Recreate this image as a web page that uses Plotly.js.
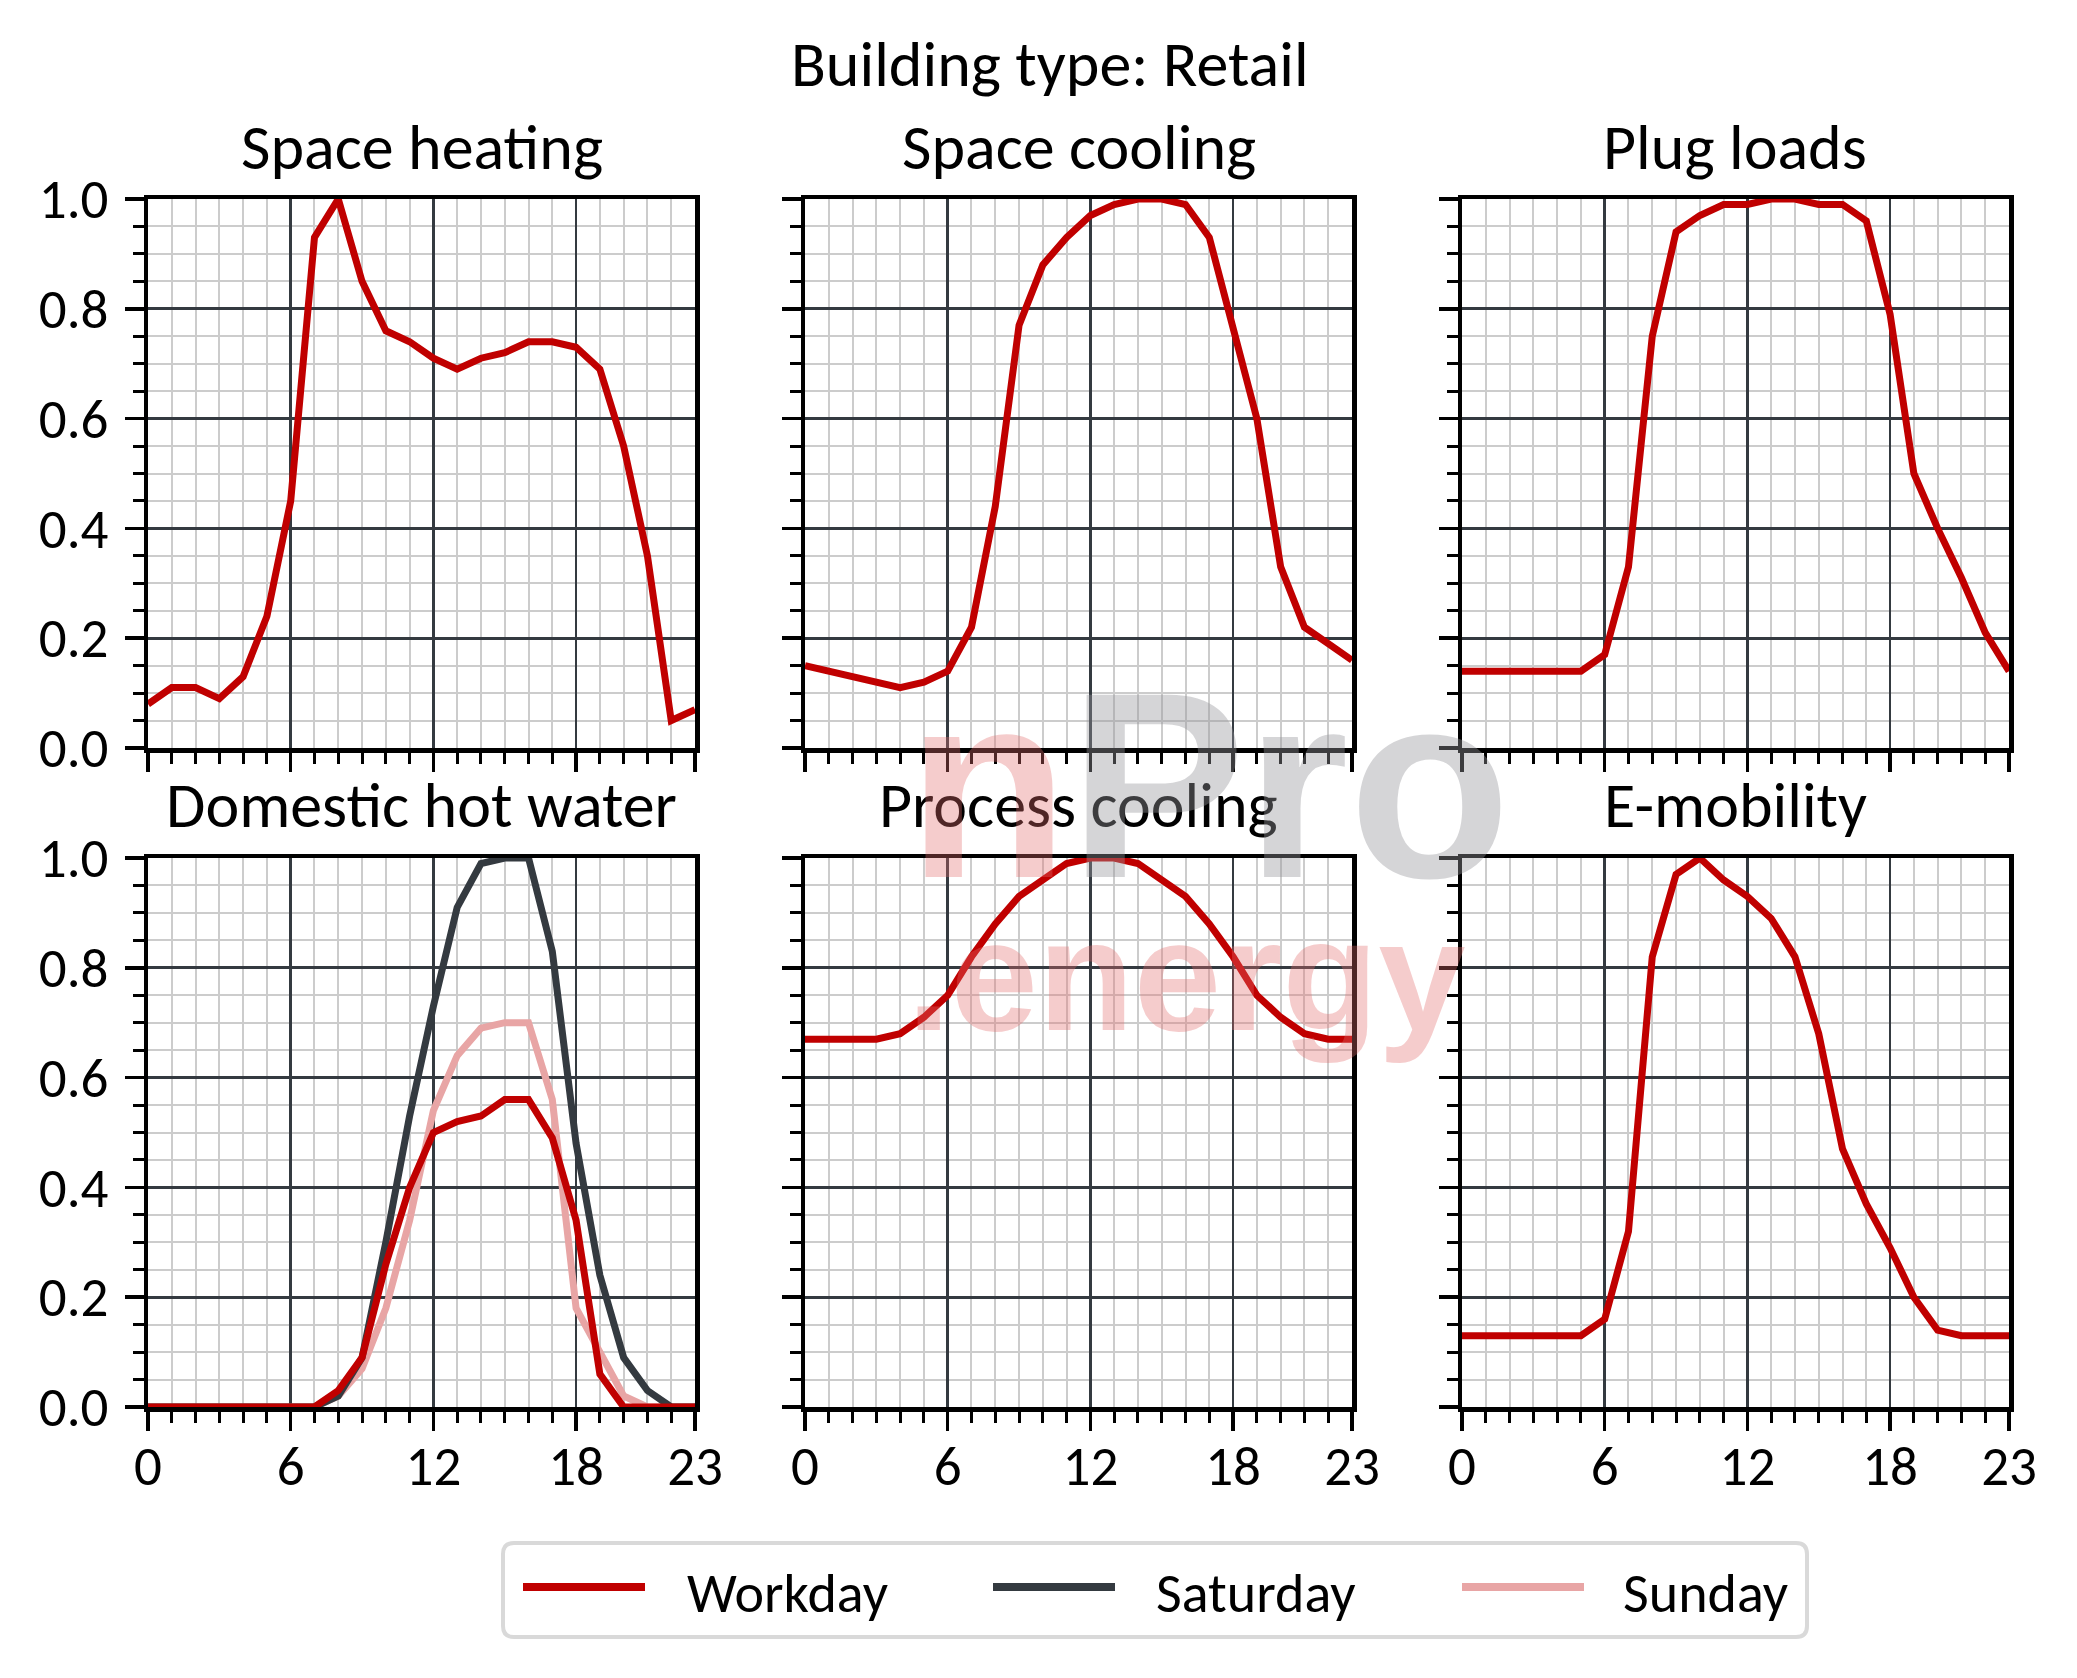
<!DOCTYPE html>
<html><head><meta charset="utf-8">
<script src="https://cdn.plot.ly/plotly-3.0.1.min.js"></script>
<style>html,body{margin:0;padding:0;background:#fff}</style>
</head><body>
<div id="chart" style="width:2077px;height:1678px"></div>
<script>
// ---------- DATA ----------
const hours = [0,1,2,3,4,5,6,7,8,9,10,11,12,13,14,15,16,17,18,19,20,21,22,23];
const xTickVals = [0,6,12,18,23];
const xTickText = ['0','6','12','18','23'];
const yTickVals = [0,0.2,0.4,0.6,0.8,1.0];
const yTickText = ['0.0','0.2','0.4','0.6','0.8','1.0'];
const panelTitles = ['Space heating','Space cooling','Plug loads','Domestic hot water','Process cooling','E-mobility'];
const mainTitle = 'Building type: Retail';
const seriesNames = ['Workday','Saturday','Sunday'];

const spaceHeatingWorkday = [0.08,0.11,0.11,0.09,0.13,0.24,0.45,0.93,1.00,0.85,0.76,0.74,0.71,0.69,0.71,0.72,0.74,0.74,0.73,0.69,0.55,0.35,0.05,0.07];
const spaceCoolingWorkday = [0.15,0.14,0.13,0.12,0.11,0.12,0.14,0.22,0.44,0.77,0.88,0.93,0.97,0.99,1.00,1.00,0.99,0.93,0.76,0.60,0.33,0.22,0.19,0.16];
const plugLoadsWorkday = [0.14,0.14,0.14,0.14,0.14,0.14,0.17,0.33,0.75,0.94,0.97,0.99,0.99,1.00,1.00,0.99,0.99,0.96,0.79,0.50,0.40,0.31,0.21,0.14];
const dhwWorkday = [0,0,0,0,0,0,0,0,0.03,0.09,0.26,0.40,0.50,0.52,0.53,0.56,0.56,0.49,0.34,0.06,0,0,0,0];
const dhwSaturday = [0,0,0,0,0,0,0,0,0.02,0.09,0.30,0.53,0.73,0.91,0.99,1.00,1.00,0.83,0.48,0.24,0.09,0.03,0,0];
const dhwSunday = [0,0,0,0,0,0,0,0,0.02,0.07,0.18,0.34,0.54,0.64,0.69,0.70,0.70,0.56,0.18,0.10,0.02,0,0,0];
const processCoolingWorkday = [0.67,0.67,0.67,0.67,0.68,0.71,0.75,0.82,0.88,0.93,0.96,0.99,1.00,1.00,0.99,0.96,0.93,0.88,0.82,0.75,0.71,0.68,0.67,0.67];
const eMobilityWorkday = [0.13,0.13,0.13,0.13,0.13,0.13,0.16,0.32,0.82,0.97,1.00,0.96,0.93,0.89,0.82,0.68,0.47,0.37,0.29,0.20,0.14,0.13,0.13,0.13];

// ---------- STYLE ----------
const W = 2077, H = 1678;
const FONT = 'Carlito, Lato, "Open Sans", sans-serif';
const cWork = '#c00000', cSat = '#343a40', cSun = '#e8a5a5';
const seriesColors = [cWork, cSat, cSun];
const majorGrid = '#343a40', minorGrid = '#cccccc';
const LW = 7;
const px = v => v / W, py = v => 1 - v / H;

const xDomains = [[px(148), px(695)],[px(805), px(1352)],[px(1462), px(2009)]];
const yDomains = [[py(748), py(199)],[py(1407), py(858)]];

function line(x, y, name, color, axIdx) {
  const s = axIdx === 1 ? '' : String(axIdx);
  return {x, y, name, type:'scatter', mode:'lines', xaxis:'x'+s, yaxis:'y'+s,
    line:{color, width:LW}, showlegend:false, hoverinfo:'skip'};
}

const traces = [
  line(hours, spaceHeatingWorkday, seriesNames[0], cWork, 1),
  line(hours, spaceCoolingWorkday, seriesNames[0], cWork, 2),
  line(hours, plugLoadsWorkday, seriesNames[0], cWork, 3),
  line(hours, dhwSunday, seriesNames[2], cSun, 4),
  line(hours, dhwSaturday, seriesNames[1], cSat, 4),
  line(hours, dhwWorkday, seriesNames[0], cWork, 4),
  line(hours, processCoolingWorkday, seriesNames[0], cWork, 5),
  line(hours, eMobilityWorkday, seriesNames[0], cWork, 6)
];

function xaxis(domain, anchor, showLabels) {
  return {domain, anchor, range:[0,23], tickmode:'array', tickvals:xTickVals, ticktext:xTickText,
    showticklabels:showLabels, ticks:'outside', ticklen:19, tickwidth:3.5, tickcolor:'#000',
    showgrid:true, gridcolor:majorGrid, gridwidth:2.8, zeroline:false,
    showline:true, linecolor:'#000', linewidth:4.5, mirror:true,
    tickfont:{family:FONT, size:55, color:'#000'}, ticklabelstandoff:-12,
    minor:{tickmode:'linear', tick0:0, dtick:1, ticks:'outside', ticklen:11, tickwidth:3, tickcolor:'#000',
      showgrid:true, gridcolor:minorGrid, gridwidth:2},
    fixedrange:true};
}
function yaxis(domain, anchor, showLabels) {
  return {domain, anchor, range:[0,1], tickmode:'array', tickvals:yTickVals, ticktext:yTickText,
    showticklabels:showLabels, ticks:'outside', ticklen:19, tickwidth:3.5, tickcolor:'#000',
    showgrid:true, gridcolor:majorGrid, gridwidth:2.8, zeroline:false,
    showline:true, linecolor:'#000', linewidth:4.5, mirror:true,
    tickfont:{family:FONT, size:55, color:'#000'}, ticklabelstandoff:5,
    minor:{tickmode:'linear', tick0:0, dtick:0.05, ticks:'outside', ticklen:11, tickwidth:3, tickcolor:'#000',
      showgrid:true, gridcolor:minorGrid, gridwidth:2},
    fixedrange:true};
}

const layout = {
  width:W, height:H, margin:{l:0,r:0,t:0,b:0},
  paper_bgcolor:'#fff', plot_bgcolor:'#fff',
  font:{family:FONT, color:'#000'},
  showlegend:false,
  annotations:[],
  shapes:[]
};

let k = 1;
for (let r = 0; r < 2; r++) {
  for (let c = 0; c < 3; c++) {
    const s = k === 1 ? '' : String(k);
    layout['xaxis'+s] = xaxis(xDomains[c], 'y'+s, r === 1);
    layout['yaxis'+s] = yaxis(yDomains[r], 'x'+s, c === 0);
    layout.annotations.push({text:panelTitles[k-1], xref:'paper', yref:'paper',
      x:(xDomains[c][0]+xDomains[c][1])/2, y: r===0 ? py(147) : py(805),
      xanchor:'center', yanchor:'middle', showarrow:false,
      font:{family:FONT, size:64, color:'#000'}});
    k++;
  }
}
layout.annotations.push({text:mainTitle, xref:'paper', yref:'paper', x:px(1050), y:py(64),
  xanchor:'center', yanchor:'middle', showarrow:false, font:{family:FONT, size:64, color:'#000'}});

// ---------- legend (drawn box, sample lines, labels) ----------
const bx0 = 503, bx1 = 1807, by0 = 1543, by1 = 1637, rr = 11;
const roundRect = `M ${px(bx0+rr)},${py(by0)} L ${px(bx1-rr)},${py(by0)} Q ${px(bx1)},${py(by0)} ${px(bx1)},${py(by0+rr)}`
  + ` L ${px(bx1)},${py(by1-rr)} Q ${px(bx1)},${py(by1)} ${px(bx1-rr)},${py(by1)}`
  + ` L ${px(bx0+rr)},${py(by1)} Q ${px(bx0)},${py(by1)} ${px(bx0)},${py(by1-rr)}`
  + ` L ${px(bx0)},${py(by0+rr)} Q ${px(bx0)},${py(by0)} ${px(bx0+rr)},${py(by0)} Z`;
layout.shapes.push({type:'path', xref:'paper', yref:'paper', path:roundRect,
  line:{color:'#d9d9d9', width:4}, fillcolor:'rgba(255,255,255,0.85)', layer:'above'});
const legLineX = [523, 993, 1462], legTextX = [685, 1154, 1621];
for (let i = 0; i < 3; i++) {
  layout.shapes.push({type:'line', xref:'paper', yref:'paper', x0:px(legLineX[i]), x1:px(legLineX[i]+122),
    y0:py(1587), y1:py(1587), line:{color:seriesColors[i], width:8}, layer:'above'});
  layout.annotations.push({text:seriesNames[i], xref:'paper', yref:'paper', x:px(legTextX[i]), y:py(1593),
    xanchor:'left', yanchor:'middle', showarrow:false, font:{family:FONT, size:56, color:'#000'}});
}

// ---------- watermark ----------
layout.annotations.push({text:'<span style="color:rgba(225,110,110,0.35)">n</span><span style="color:rgba(150,150,155,0.40)">Pro</span>',
  xref:'paper', yref:'paper', x:px(905), y:py(785), xanchor:'left', yanchor:'middle', showarrow:false,
  font:{family:'"Liberation Sans", Arial, sans-serif', size:265, weight:'bold'}});
layout.annotations.push({text:'<span style="color:rgba(225,110,110,0.35)">.energy</span>',
  xref:'paper', yref:'paper', x:px(905), y:py(975), xanchor:'left', yanchor:'middle', showarrow:false,
  font:{family:'"Liberation Sans", Arial, sans-serif', size:157, weight:'bold'}});

Plotly.newPlot('chart', traces, layout, {staticPlot:true, displayModeBar:false});
</script>
</body></html>
